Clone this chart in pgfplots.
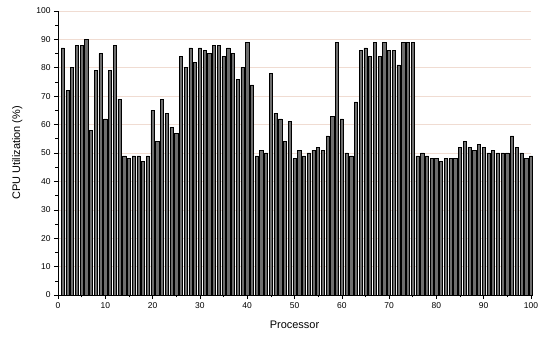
\documentclass[border=0pt]{standalone}
\usepackage{pgfplots}
\pgfplotsset{compat=1.18}
\usepackage{fontspec}
\setmainfont{Liberation Sans}
\definecolor{gridc}{RGB}{240,220,210}
\definecolor{barc}{RGB}{110,110,110}
\begin{document}
\begin{tikzpicture}
\useasboundingbox (-58bp,-42bp) rectangle (480bp,295bp);
\begin{axis}[
  at={(0,0)}, anchor=south west,
  scale only axis, width=473bp, height=284bp,
  xmin=0, xmax=100, ymin=0, ymax=100,
  axis x line*=bottom, axis y line*=left,
  axis line style={-, black, line width=0.8pt},
  xtick={0,10,...,100}, ytick={0,10,...,100},
  minor xtick={5,15,...,95}, minor ytick={5,15,...,95},
  tick align=outside,
  major tick length=4bp, minor tick length=2.5bp,
  tick style={black, line width=0.6pt},
  ymajorgrids, major grid style={gridc, line width=0.6pt},
  /pgf/number format/assume math mode=true,
  ticklabel style={font=\fontsize{8.5}{10}\selectfont},
  xlabel={Processor}, ylabel={CPU Utilization (\%)},
  label style={font=\fontsize{11}{13}\selectfont},
  xlabel style={at={(axis description cs:0.5,0)}, anchor=north, yshift=-22bp},
  ylabel style={at={(axis description cs:0,0.5)}, anchor=south, yshift=32bp},
  clip=false,
]
\addplot[ybar, bar width=0.68, fill=barc, draw=black, line width=0.6pt] coordinates {
(1,87) (2,72) (3,80) (4,88) (5,88) (6,90) (7,58) (8,79) (9,85) (10,62)
(11,79) (12,88) (13,69) (14,49) (15,48) (16,49) (17,49) (18,47) (19,49) (20,65)
(21,54) (22,69) (23,64) (24,59) (25,57) (26,84) (27,80) (28,87) (29,82) (30,87)
(31,86) (32,85) (33,88) (34,88) (35,84) (36,87) (37,85) (38,76) (39,80) (40,89)
(41,74) (42,49) (43,51) (44,50) (45,78) (46,64) (47,62) (48,54) (49,61) (50,48)
(51,51) (52,49) (53,50) (54,51) (55,52) (56,51) (57,56) (58,63) (59,89) (60,62)
(61,50) (62,49) (63,68) (64,86) (65,87) (66,84) (67,89) (68,84) (69,89) (70,86)
(71,86) (72,81) (73,89) (74,89) (75,89) (76,49) (77,50) (78,49) (79,48) (80,48)
(81,47) (82,48) (83,48) (84,48) (85,52) (86,54) (87,52) (88,51) (89,53) (90,52)
(91,50) (92,51) (93,50) (94,50) (95,50) (96,56) (97,52) (98,50) (99,48) (100,49)
};
\end{axis}
\end{tikzpicture}
\end{document}
